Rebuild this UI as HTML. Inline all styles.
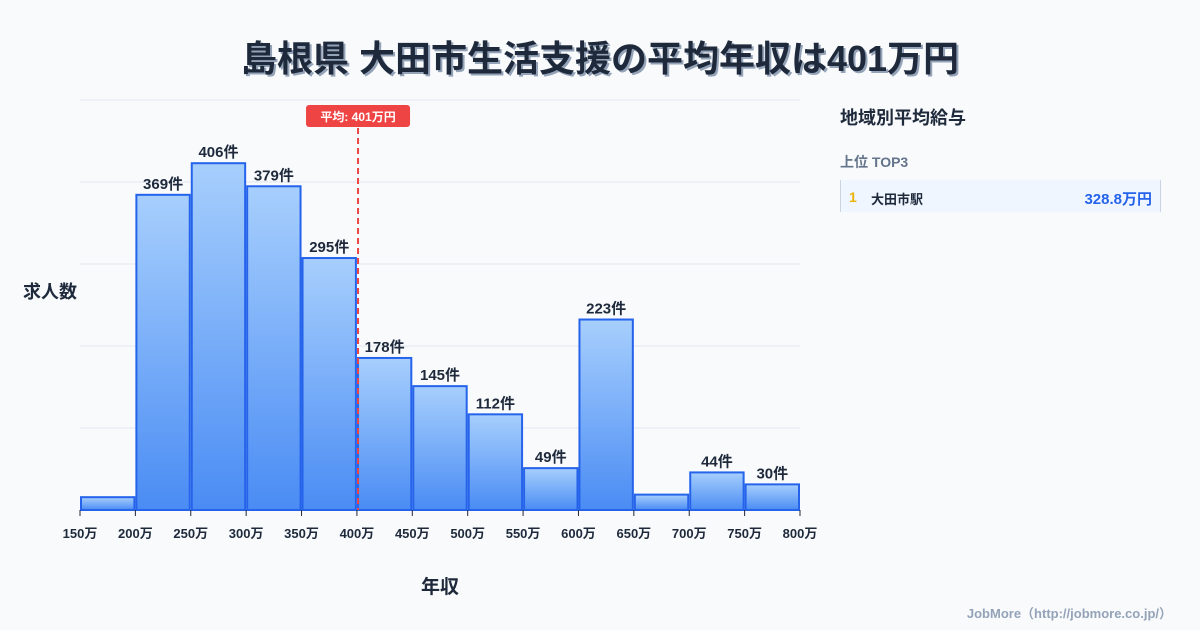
<!DOCTYPE html>
<html><head><meta charset="utf-8">
<style>
body{margin:0;width:1200px;height:630px;background:#f8fafc;font-family:"Liberation Sans","Noto Sans CJK JP",sans-serif;overflow:hidden;position:relative}
#title{position:absolute;top:30px;left:0;width:1200px;text-align:center;font-size:36px;font-weight:700;color:#1e293b;text-shadow:2px 2px 0 #94a3b8}
#side{position:absolute;left:840px;top:104px;width:320px}
</style></head><body>
<div id="title">島根県 大田市生活支援の平均年収は401万円</div>
<svg width="1200" height="630" style="position:absolute;left:0;top:0" id="chart">
<defs><linearGradient id="g" x1="0" y1="0" x2="0" y2="1"><stop offset="0" stop-color="#a7cffd"/><stop offset="1" stop-color="#4a8cf4"/></linearGradient></defs>
<g id="grid"></g><g id="bars"></g><g id="labels"></g><g id="ticks"></g>
<text x="50" y="298" text-anchor="middle" font-size="18" font-weight="700" fill="#1e293b">求人数</text>
<text x="440" y="593" text-anchor="middle" font-size="19" font-weight="700" fill="#1e293b">年収</text>
<g id="avg"></g>
</svg>
<div id="side">
<div style="font-size:18px;font-weight:700;color:#1e293b">地域別平均給与</div>
<div style="font-size:14px;font-weight:700;color:#64748b;margin-top:22px">上位 TOP3</div>
<div style="margin-top:8px;height:32px;background:#eff6ff;border-left:1px solid #cbd5e1;border-right:1px solid #cbd5e1;width:319px;position:relative;font-size:13px;font-weight:700">
<span style="position:absolute;left:8px;top:9px;color:#eab308;font-size:14px">1</span>
<span style="position:absolute;left:30px;top:9px;color:#1e293b">大田市駅</span>
<span style="position:absolute;right:8px;top:8px;color:#2563eb;font-size:15px">328.8万円</span></div>
</div>
<div style="position:absolute;right:28px;top:603px;font-size:13px;font-weight:700;color:#94a3b8">JobMore（http://jobmore.co.jp/）</div>
<script>
const binStarts=[150,200,250,300,350,400,450,500,550,600,650,700,750];
const counts=[15,369,406,379,295,178,145,112,49,223,18,44,30];
const showLabel=[false,true,true,true,true,true,true,true,true,true,false,true,true];
const xTicks=[150,200,250,300,350,400,450,500,550,600,650,700,750,800];
const avgValue=401;
const NS="http://www.w3.org/2000/svg";
const x0=80,x1=800,yB=510,yT=100,yMax=480;
const xs=v=>x0+(v-150)/(800-150)*(x1-x0);
const ys=v=>yB-v/yMax*(yB-yT);
function el(t,a,p){const e=document.createElementNS(NS,t);for(const k in a)e.setAttribute(k,a[k]);document.getElementById(p).appendChild(e);return e;}
for(let i=0;i<=5;i++){const y=yT+i*(yB-yT)/5;
const g=el('line',{x1:x0,x2:x1,y1:y,y2:y,stroke:'#e2e8f0','stroke-width':1},'grid');

}
binStarts.forEach((b,i)=>{const xa=xs(b)+1,xb=xs(b+50)-1,y=ys(counts[i]);
const r=el('rect',{x:xa,y:y,width:xb-xa,height:yB-y,fill:'url(#g)',stroke:'#2563eb','stroke-width':2},'bars');


if(showLabel[i]){const t=el('text',{x:(xa+xb)/2,y:y-6,'text-anchor':'middle','font-size':15,'font-weight':700,fill:'#1e293b'},'labels');t.textContent=counts[i]+'件';

}});
xTicks.forEach(v=>{const x=xs(v);
const l=el('line',{x1:x,x2:x,y1:yB,y2:yB+6,stroke:'#1e293b'},'ticks');


const t=el('text',{x:x,y:yB+28,'text-anchor':'middle','font-size':13,'font-weight':700,fill:'#1e293b'},'ticks');t.textContent=v+'万';

});
const ax=xs(avgValue);
const al=el('line',{x1:ax,x2:ax,y1:128,y2:yB,stroke:'#ef4444','stroke-width':2,'stroke-dasharray':'6,4'},'avg');


const ab=el('rect',{x:ax-52,y:105,width:104,height:22,rx:3,fill:'#ef4444'},'avg');


const at=el('text',{x:ax,y:121,'text-anchor':'middle','font-size':12,'font-weight':700,fill:'#fff'},'avg');at.textContent='平均: '+avgValue+'万円';


</script>
</body></html>
